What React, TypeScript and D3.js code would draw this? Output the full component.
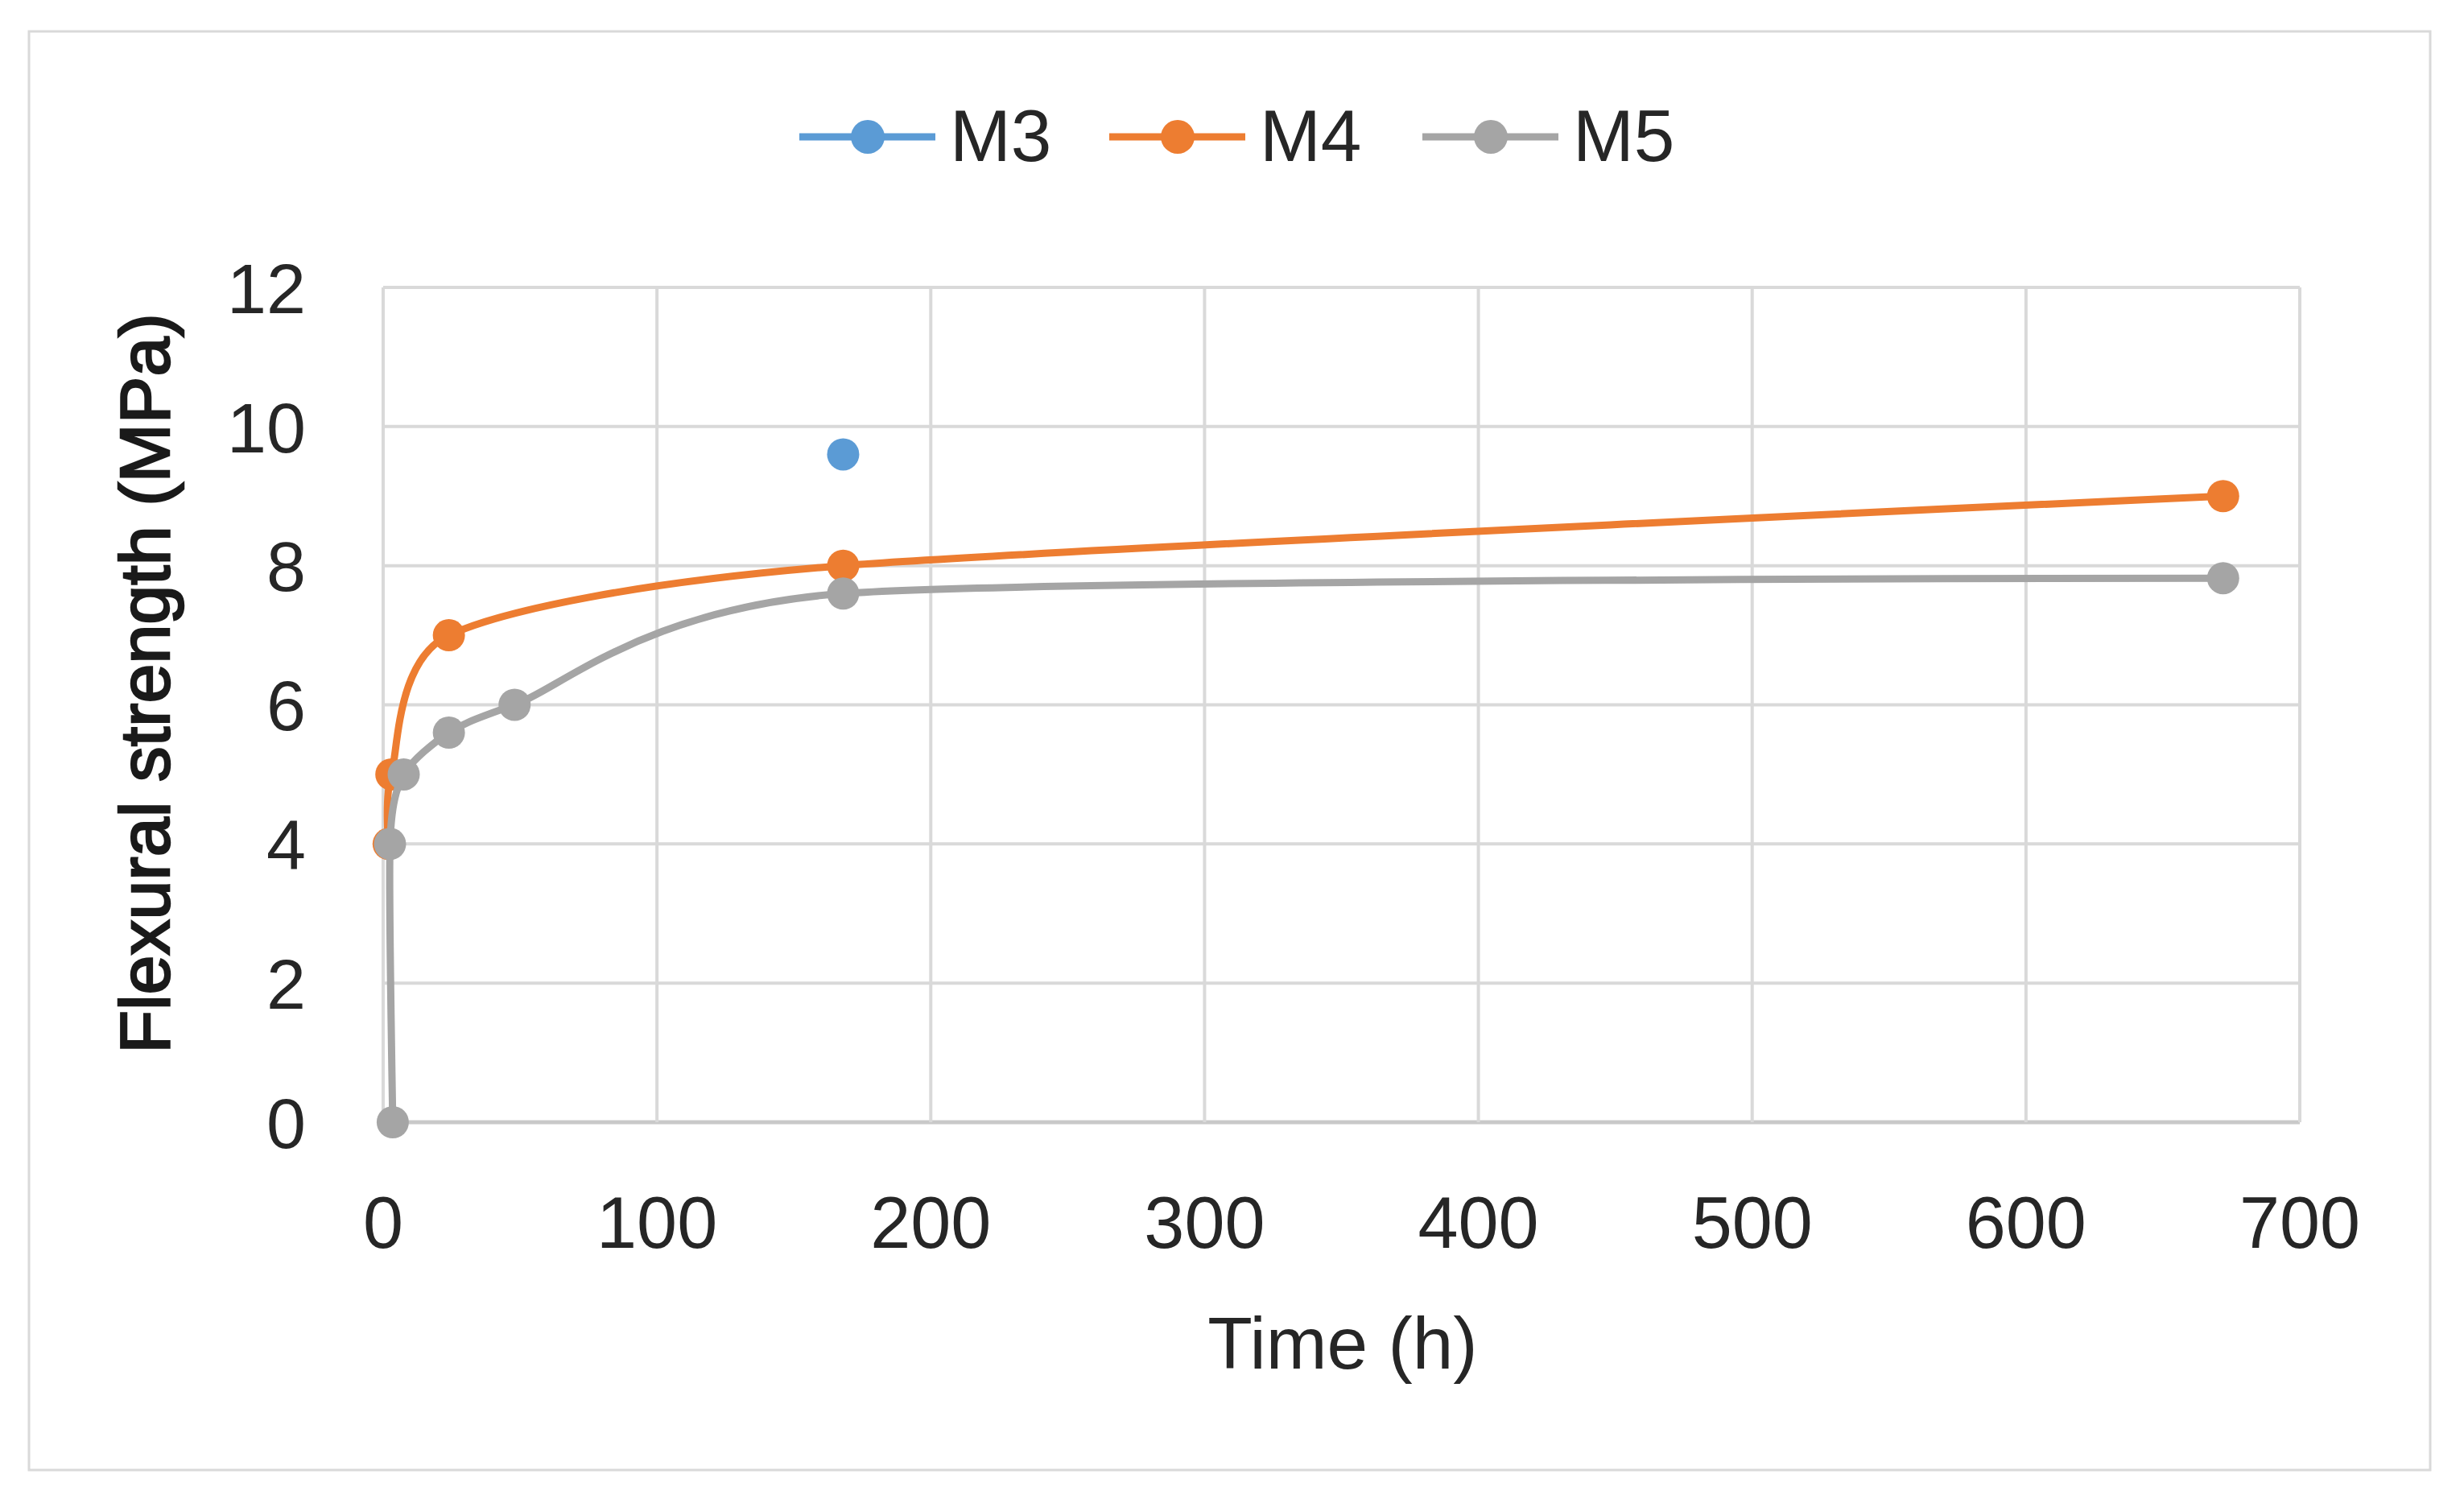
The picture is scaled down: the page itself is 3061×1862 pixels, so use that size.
import { useEffect } from "react";
import * as d3 from "d3";

// Flexural strength vs curing time
const m3Time = [168];
const m3Strength = [9.6];

const m4Time = [2, 3, 24, 168, 672];
const m4Strength = [4, 5, 7, 8, 9];

const m5Time = [3.5, 2.5, 7.5, 24, 48, 168, 672];
const m5Strength = [0, 4, 5, 5.6, 6.0, 7.6, 7.82];

const xTicks = [0, 100, 200, 300, 400, 500, 600, 700];
const yTicks = [0, 2, 4, 6, 8, 10, 12];

const seriesNames = ["M3", "M4", "M5"];
const seriesColors = ["#5b9bd5", "#ed7d31", "#a5a5a5"];

const W = 3061;
const H = 1862;
const margin = { top: 357, right: 204, bottom: 468, left: 476 };
const FONT = "'Liberation Sans', Arial, sans-serif";

export default function App() {
  useEffect(() => {
    document.body.style.margin = "0";
  }, []);

  const x = d3.scaleLinear().domain([0, 700]).range([margin.left, W - margin.right]);
  const y = d3.scaleLinear().domain([0, 12]).range([H - margin.bottom, margin.top]);

  // Excel-like smoothed line
  const line = d3
    .line<[number, number]>()
    .x((d) => x(d[0]))
    .y((d) => y(d[1]))
    .curve(d3.curveCardinal.tension(0.3));

  const series = [
    { t: m3Time, v: m3Strength },
    { t: m4Time, v: m4Strength },
    { t: m5Time, v: m5Strength },
  ].map((s, i) => ({
    name: seriesNames[i],
    color: seriesColors[i],
    pts: s.t.map((t, j) => [t, s.v[j]] as [number, number]),
  }));

  const legendX = [993, 1378, 1767];

  return (
    <svg width={W} height={H} style={{ display: "block", background: "#fff" }}>
      <rect x={36} y={39} width={2983} height={1787} fill="#fff" stroke="#d9d9d9" strokeWidth={3} />

      {/* grid */}
      {yTicks.map((t) => (
        <line
          key={"gy" + t}
          x1={x(0)}
          x2={x(700)}
          y1={y(t)}
          y2={y(t)}
          stroke={t === 0 ? "#c9c9c9" : "#d9d9d9"}
          strokeWidth={t === 0 ? 5 : 4}
        />
      ))}
      {xTicks.map((t) => (
        <line key={"gx" + t} x1={x(t)} x2={x(t)} y1={y(0)} y2={y(12)} stroke="#d9d9d9" strokeWidth={4} />
      ))}

      {/* tick labels */}
      {yTicks.map((t) => (
        <text key={"ty" + t} x={380} y={y(t)} dy="0.36em" textAnchor="end" fontFamily={FONT} fontSize={88} fill="#262626">
          {t}
        </text>
      ))}
      {xTicks.map((t) => (
        <text key={"tx" + t} x={x(t)} y={1550} textAnchor="middle" fontFamily={FONT} fontSize={90} fill="#262626">
          {t}
        </text>
      ))}

      {/* axis titles */}
      <text x={1668} y={1700} textAnchor="middle" fontFamily={FONT} fontSize={91} fill="#262626">
        Time (h)
      </text>
      <text
        transform="translate(210,849) rotate(-90)"
        textAnchor="middle"
        fontFamily={FONT}
        fontSize={88}
        fill="#1a1a1a"
        stroke="#1a1a1a"
        strokeWidth={2.5}
      >
        Flexural strength (MPa)
      </text>

      {/* series */}
      {series.map((s) => (
        <g key={s.name}>
          {s.pts.length > 1 && (
            <path d={line(s.pts) ?? ""} fill="none" stroke={s.color} strokeWidth={9} strokeLinejoin="round" />
          )}
          {s.pts.map((p, j) => (
            <circle key={j} cx={x(p[0])} cy={y(p[1])} r={20} fill={s.color} />
          ))}
        </g>
      ))}

      {/* legend */}
      {series.map((s, i) => (
        <g key={"lg" + s.name} transform={`translate(${legendX[i]},170)`}>
          <line x1={0} x2={169} y1={0} y2={0} stroke={s.color} strokeWidth={9} />
          <circle cx={85} cy={0} r={21} fill={s.color} />
          <text x={187} y={30} fontFamily={FONT} fontSize={91} fill="#262626">
            {s.name}
          </text>
        </g>
      ))}
    </svg>
  );
}
